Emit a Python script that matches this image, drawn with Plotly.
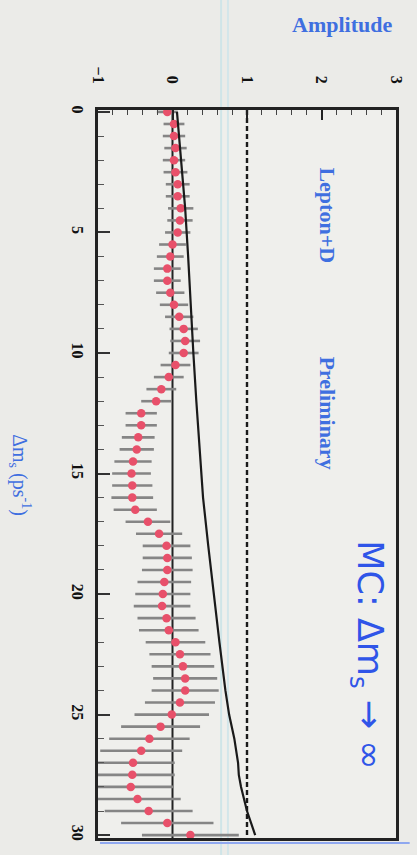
import plotly.graph_objects as go

# Data (rotated scan: amplitude horizontal, delta m_s vertical)
dms = [0, 0.5, 1, 1.5, 2, 2.5, 3, 3.5, 4, 4.5, 5, 5.5, 6, 6.5, 7, 7.5, 8, 8.5, 9, 9.5,
       10, 10.5, 11, 11.5, 12, 12.5, 13, 13.5, 14, 14.5, 15, 15.5, 16, 16.5, 17, 17.5,
       18, 18.5, 19, 19.5, 20, 20.5, 21, 21.5, 22, 22.5, 23, 23.5, 24, 24.5, 25, 25.5,
       26, 26.5, 27, 27.5, 28, 28.5, 29, 29.5, 30]
amplitude = [-0.07, 0.02, 0.02, 0.04, 0.02, 0.04, 0.07, 0.07, 0.11, 0.10,
             0.07, 0.00, -0.03, -0.07, -0.07, -0.03, 0.02, 0.09, 0.15, 0.17,
             0.15, 0.04, -0.05, -0.15, -0.22, -0.42, -0.42, -0.46, -0.48, -0.53,
             -0.55, -0.54, -0.54, -0.50, -0.33, -0.18, -0.08, -0.07, -0.07, -0.11,
             -0.13, -0.14, -0.08, -0.05, 0.04, 0.10, 0.14, 0.17, 0.17, 0.10,
             -0.01, -0.16, -0.31, -0.42, -0.53, -0.54, -0.56, -0.47, -0.32, -0.07,
             0.24]
amp_err = [0.14, 0.14, 0.15, 0.15, 0.15, 0.16, 0.16, 0.16, 0.17, 0.17,
           0.17, 0.18, 0.18, 0.18, 0.18, 0.19, 0.19, 0.19, 0.19, 0.20,
           0.20, 0.20, 0.20, 0.20, 0.20, 0.21, 0.21, 0.22, 0.23, 0.25,
           0.26, 0.27, 0.28, 0.29, 0.30, 0.31, 0.32, 0.33, 0.34, 0.36,
           0.37, 0.38, 0.39, 0.40, 0.40, 0.41, 0.42, 0.43, 0.45, 0.47,
           0.50, 0.53, 0.54, 0.55, 0.56, 0.57, 0.57, 0.58, 0.59, 0.62,
           0.65]
sens_dms = [0, 2, 4, 6, 8, 10, 12, 14, 16, 18, 20, 22, 24, 25, 26, 27, 27.5, 28, 29, 30]
sens_amp = [0.06, 0.12, 0.17, 0.21, 0.24, 0.28, 0.32, 0.36, 0.41, 0.48, 0.55, 0.63,
            0.71, 0.76, 0.83, 0.88, 0.89, 0.92, 1.00, 1.11]
amp_ticks = [-1, 0, 1, 2, 3]
dms_ticks = [0, 5, 10, 15, 20, 25, 30]

BLUE = "#3f6fe0"
W, H = 417, 855
L, R, T, B = 98, 14, 110, 17
pw, ph = W - L - R, H - T - B

def px(x):
    return (x - L) / pw

def py(y):
    return (H - B - y) / ph

fig = go.Figure()

# zero line and amplitude = 1 dashed line
fig.add_trace(go.Scatter(x=[0, 0], y=[-0.08, 30.12], mode="lines",
                         line=dict(color="#222", width=2), hoverinfo="skip"))
fig.add_trace(go.Scatter(x=[1, 1], y=[-0.08, 30.12], mode="lines",
                         line=dict(color="#1a1a1a", width=2.4, dash="5px,3px"), hoverinfo="skip"))

# data points with error bars
fig.add_trace(go.Scatter(
    x=amplitude, y=dms, mode="markers",
    marker=dict(color="#e8506a", size=8.5),
    error_x=dict(type="data", array=amp_err, color="#858585", thickness=2.6, width=0),
))

# sensitivity curve
fig.add_trace(go.Scatter(x=sens_amp, y=sens_dms, mode="lines",
                         line=dict(color="#1a1a1a", width=2.2)))

shapes = [
    dict(type="line", xref="paper", yref="paper", x0=px(224), x1=px(224), y0=py(0), y1=py(H),
         line=dict(color="#cfe5e8", width=2), layer="below"),
    dict(type="line", xref="paper", yref="paper", x0=px(231), x1=px(231), y0=py(0), y1=py(H),
         line=dict(color="#d3e6ea", width=2), layer="below"),
    dict(type="line", xref="paper", yref="paper", x0=px(100), x1=px(417), y0=py(843), y1=py(843),
         line=dict(color="#8fa8f0", width=2)),
]

annotations = [
    dict(text="<b>Amplitude</b>", x=px(348), y=py(25), xref="paper", yref="paper",
         showarrow=False, font=dict(family="Liberation Serif", size=22, color=BLUE),
         xanchor="center", yanchor="middle"),
    dict(text="<b>Lepton+D</b>", x=px(333), y=py(215), xref="paper", yref="paper",
         showarrow=False, textangle=90, font=dict(family="Liberation Serif", size=22, color=BLUE),
         xanchor="center", yanchor="middle"),
    dict(text="<b>Preliminary</b>", x=px(333), y=py(413), xref="paper", yref="paper",
         showarrow=False, textangle=90, font=dict(family="Liberation Serif", size=22, color=BLUE),
         xanchor="center", yanchor="middle"),
    dict(text="MC: Δm<sub>s</sub> → ∞", x=px(374), y=py(655), xref="paper", yref="paper",
         showarrow=False, textangle=90, font=dict(family="DejaVu Sans", size=35, color="#2f55e8"),
         xanchor="center", yanchor="middle"),
    dict(text="Δm<sub>s</sub> (ps<sup>-1</sup>)", x=px(18), y=py(475), xref="paper", yref="paper",
         showarrow=False, textangle=90, font=dict(family="Liberation Serif", size=20, color=BLUE),
         xanchor="center", yanchor="middle"),
]

fig.update_layout(
    width=W, height=H,
    margin=dict(l=L, r=R, t=T, b=B),
    paper_bgcolor="#ebebe8",
    plot_bgcolor="#efefec",
    showlegend=False,
    shapes=shapes,
    annotations=annotations,
    xaxis=dict(
        range=[-1, 3], side="top", tickmode="linear", tick0=-1, dtick=1, tickangle=90,
        ticks="inside", ticklen=10, tickwidth=1.5, tickcolor="#222",
        minor=dict(tick0=-1, dtick=0.2, ticks="inside", ticklen=5, tickwidth=1.2,
                   tickcolor="#444", showgrid=False),
        showgrid=False, zeroline=False, showline=True, linecolor="#222", linewidth=2.5,
        mirror=True, ticklabelstandoff=18,
        tickfont=dict(family="Liberation Serif", size=16, color="#111", weight="bold"),
    ),
    yaxis=dict(
        range=[30.12, -0.08], tickmode="linear", tick0=0, dtick=5, tickangle=90,
        ticks="inside", ticklen=12, tickwidth=1.5, tickcolor="#333",
        minor=dict(tick0=0, dtick=1, ticks="inside", ticklen=6, tickwidth=1.2,
                   tickcolor="#555", showgrid=False),
        showgrid=False, zeroline=False, showline=True, linecolor="#222", linewidth=2.5,
        mirror=True, ticklabelstandoff=4,
        tickfont=dict(family="Liberation Serif", size=16, color="#111", weight="bold"),
    ),
)

fig.write_html("out.html")
